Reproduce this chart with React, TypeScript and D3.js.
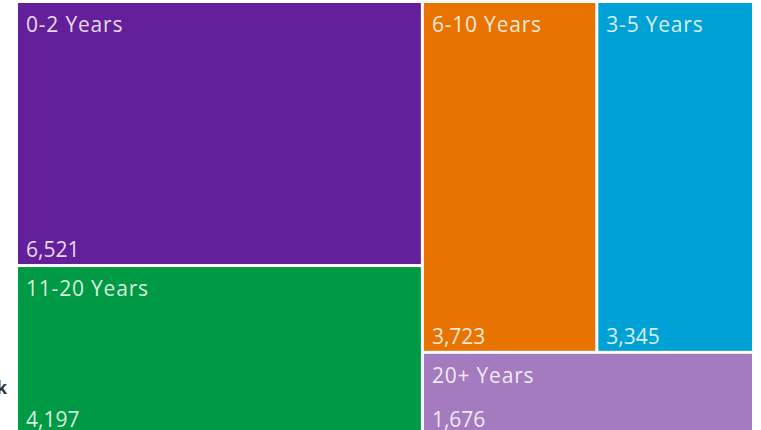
import React from "react";
import * as d3 from "d3";

const categories = ["0-2 Years", "11-20 Years", "6-10 Years", "3-5 Years", "20+ Years"];
const counts = [6521, 4197, 3723, 3345, 1676];
const colors = ["#63209a", "#009a44", "#e97300", "#00a2d6", "#a57bc0"];

const W = 761;
const H = 430;

export default function App() {
  const ref = React.useRef<SVGSVGElement>(null);

  React.useEffect(() => {
    const svg = d3.select(ref.current);
    svg.selectAll("*").remove();

    const data = {
      name: "root",
      children: categories.map((c, i) => ({ name: c, value: counts[i], color: colors[i] })),
    };

    const root = d3
      .hierarchy<any>(data)
      .sum((d: any) => d.value || 0)
      .sort((a, b) => (b.value || 0) - (a.value || 0));

    d3.treemap<any>()
      .tile(d3.treemapSquarify)
      .size([734, 431])
      .paddingInner(3)(root);

    const g = svg.append("g").attr("transform", "translate(18,3)");
    const fmt = d3.format(",");

    const cell = g
      .selectAll("g.cell")
      .data(root.leaves())
      .join("g")
      .attr("class", "cell");

    cell
      .append("rect")
      .attr("x", (d: any) => d.x0)
      .attr("y", (d: any) => d.y0)
      .attr("width", (d: any) => d.x1 - d.x0)
      .attr("height", (d: any) => d.y1 - d.y0)
      .attr("fill", (d: any) => d.data.color);

    cell
      .append("text")
      .attr("x", (d: any) => d.x0 + 8)
      .attr("y", (d: any) => d.y0 + 29)
      .attr("fill", "#fff")
      .attr("fill-opacity", 0.85)
      .style("font-family", "'Open Sans', sans-serif")
      .style("font-size", "21px")
      .style("letter-spacing", "0.8px")
      .text((d: any) => d.data.name);

    cell
      .append("text")
      .attr("x", (d: any) => d.x0 + 8)
      .attr("y", (d: any) => d.y1 - 7)
      .attr("fill", "#fff")
      .attr("fill-opacity", 0.85)
      .style("font-family", "'Open Sans', sans-serif")
      .style("font-size", "21px")
      .text((d: any) => fmt(d.data.value));

    // clipped label at the far left
    svg
      .append("text")
      .attr("x", 7)
      .attr("y", 394)
      .attr("text-anchor", "end")
      .attr("fill", "#333")
      .style("font-family", "'Open Sans', sans-serif")
      .style("font-size", "17px")
      .style("font-weight", "bold")
      .text("k");
  }, []);

  return (
    <div style={{ position: "absolute", left: 0, top: 0, width: W, height: H, background: "#fff" }}>
      <svg ref={ref} width={W} height={H} />
    </div>
  );
}
